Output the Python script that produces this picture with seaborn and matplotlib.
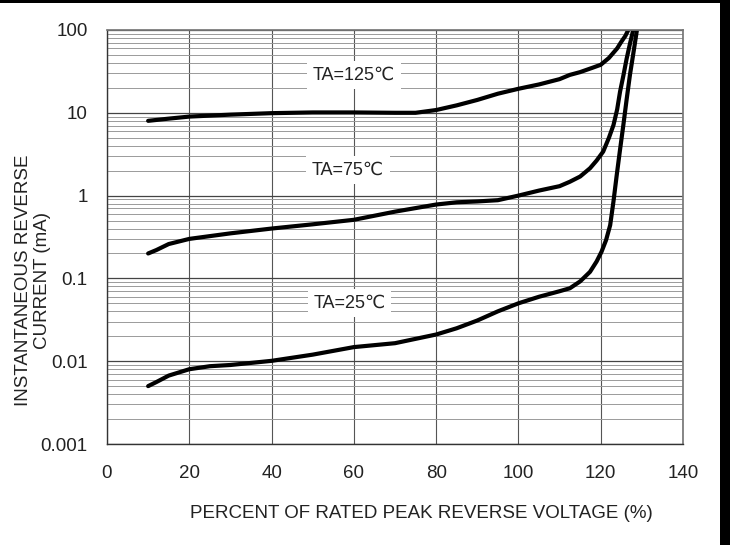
"""
Reverse leakage current vs. percent of rated peak reverse voltage,
three junction temperatures, log y axis.
"""

import matplotlib
matplotlib.use("Agg")
import matplotlib.pyplot as plt
from matplotlib.patches import Rectangle
from matplotlib.ticker import LogLocator, NullFormatter, FixedLocator, FixedFormatter
import seaborn as sns
import pandas as pd

# values
X_125 = [10, 15, 20, 30, 40, 50, 60, 70, 75, 80, 85, 90, 95, 100, 105, 110,
         112.5, 115, 118, 120, 122, 124, 125, 126, 126.7]
I_125 = [8.0, 8.5, 9.0, 9.5, 9.9, 10.1, 10.1, 10.0, 10.0, 10.8, 12.3, 14.3,
         17.0, 19.5, 22.0, 25.5, 28.7, 31.0, 35.0, 38.0, 46.0, 60.0, 72.0,
         85.0, 100.0]

X_75 = [10, 12, 15, 20, 30, 40, 50, 60, 70, 80, 85, 90, 95, 100, 105, 110,
        112.5, 115, 117.4, 119, 120.6, 122, 123.1, 124, 124.7, 125.5, 126.3,
        127.1, 127.9]
I_75 = [0.2, 0.22, 0.26, 0.30, 0.35, 0.40, 0.45, 0.51, 0.64, 0.78, 0.83, 0.85,
        0.88, 1.0, 1.15, 1.3, 1.47, 1.7, 2.14, 2.65, 3.4, 5.0, 7.1, 11.0, 18.0,
        28.0, 45.0, 68.0, 100.0]

X_25 = [10, 12, 15, 20, 25, 30, 40, 50, 60, 70, 80, 85, 90, 95, 100, 105, 110,
        112.5, 115, 117.4, 119, 120.2, 121.3, 122.3, 123.1, 123.9, 124.7, 125.5,
        126.3, 127.1, 128, 128.8]
I_25 = [0.005, 0.0056, 0.0067, 0.008, 0.0087, 0.009, 0.0101, 0.012, 0.0148,
        0.0165, 0.021, 0.025, 0.031, 0.04, 0.05, 0.06, 0.07, 0.076, 0.092, 0.12,
        0.16, 0.21, 0.29, 0.44, 0.85, 1.78, 3.6, 7.1, 14.5, 28.6, 55.0, 100.0]

LABELS = ["TA=125℃", "TA=75℃", "TA=25℃"]
LABEL_X = [60, 58.6, 59]
LABEL_Y = [28.6, 2.05, 0.05]

X_TICKS = [0, 20, 40, 60, 80, 100, 120, 140]
Y_TICKS = [0.001, 0.01, 0.1, 1, 10, 100]
Y_TICK_LABELS = ["0.001", "0.01", "0.1", "1", "10", "100"]

df = pd.concat([
    pd.DataFrame({"pct": X_125, "current": I_125, "temp": LABELS[0]}),
    pd.DataFrame({"pct": X_75, "current": I_75, "temp": LABELS[1]}),
    pd.DataFrame({"pct": X_25, "current": I_25, "temp": LABELS[2]}),
])

sns.set_theme(style="white")
plt.rcParams["font.family"] = ["Liberation Sans", "DejaVu Sans"]
TXT = "#222222"

fig = plt.figure(figsize=(7.3, 5.45), dpi=100)
ax = fig.add_axes([107 / 730, 1 - 444 / 545, 576 / 730, 414 / 545])

sns.lineplot(data=df, x="pct", y="current", hue="temp", palette=["black"] * 3,
             linewidth=3.0, legend=False, sort=False, estimator=None, ax=ax,
             solid_joinstyle="round", solid_capstyle="round")

ax.set_yscale("log")
ax.set_xlim(0, 140)
ax.set_ylim(0.001, 100)

ax.xaxis.set_major_locator(FixedLocator(X_TICKS))
ax.yaxis.set_major_locator(FixedLocator(Y_TICKS))
ax.yaxis.set_major_formatter(FixedFormatter(Y_TICK_LABELS))
ax.yaxis.set_minor_locator(LogLocator(base=10, subs=range(2, 10)))
ax.yaxis.set_minor_formatter(NullFormatter())

ax.grid(which="major", axis="y", color="#444444", linewidth=0.9)
ax.grid(which="minor", axis="y", color="#9a9a9a", linewidth=0.7)
ax.grid(which="major", axis="x", color="#555555", linewidth=0.8)
ax.set_axisbelow(True)

ax.tick_params(axis="y", which="both", length=0, pad=14, labelsize=13.5, labelcolor=TXT)
ax.tick_params(axis="x", which="both", length=0, pad=15, labelsize=13.5, labelcolor=TXT)

for side in ["left", "bottom"]:
    ax.spines[side].set_color("#333333")
    ax.spines[side].set_linewidth(1.0)
ax.spines["right"].set_color("#777777")
ax.spines["top"].set_color("#777777")

ax.set_xlabel("PERCENT OF RATED PEAK REVERSE VOLTAGE (%)", fontsize=13.5, color=TXT)
ax.xaxis.set_label_coords(0.545, -0.147)
ax.set_ylabel("INSTANTANEOUS REVERSE\nCURRENT (mA)", fontsize=13.5, color=TXT,
              linespacing=1.2)
ax.yaxis.set_label_coords(-0.097, 0.396)

for lab, lx, ly in zip(LABELS, LABEL_X, LABEL_Y):
    ax.text(lx, ly, lab, ha="center", va="center", fontsize=13, color=TXT,
            bbox=dict(facecolor="white", edgecolor="none", pad=4))

# black edge bands seen on the top and right of the original scan
fig.patches.append(Rectangle((0, 1 - 3 / 545), 1, 3 / 545, transform=fig.transFigure,
                             facecolor="black", edgecolor="none"))
fig.patches.append(Rectangle((720 / 730, 0), 10 / 730, 1, transform=fig.transFigure,
                             facecolor="black", edgecolor="none"))

plt.savefig("out.png", dpi=100)
plt.close()
